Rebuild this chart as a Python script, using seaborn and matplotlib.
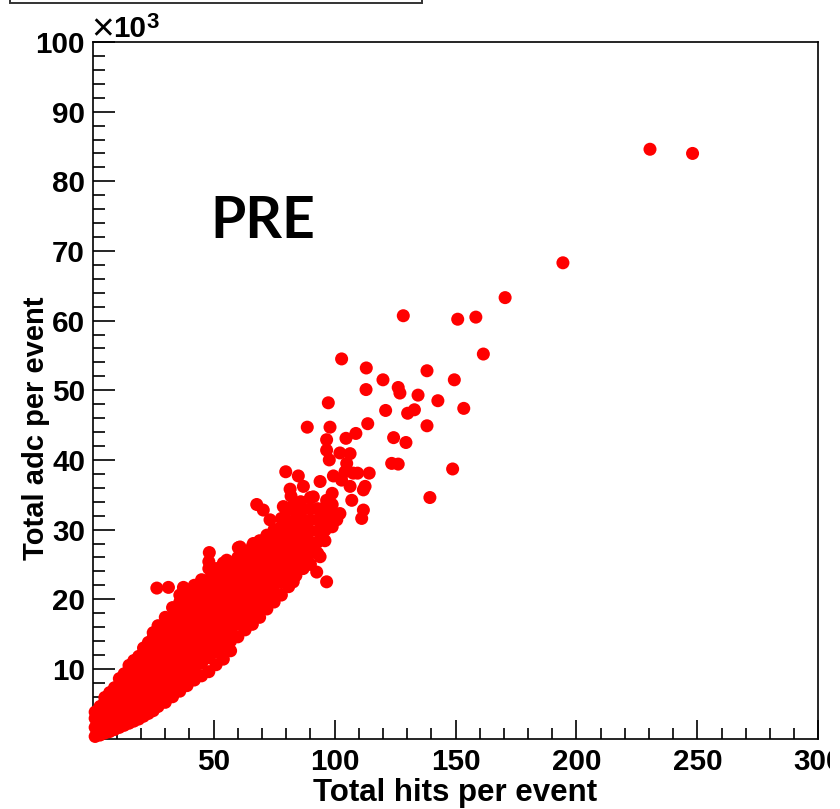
from matplotlib import pyplot as plt
from matplotlib.patches import Rectangle
from matplotlib.ticker import FixedLocator, MultipleLocator
import pandas as pd
import seaborn as sns

# dense part of the cloud: hit count -> adc values (x10^3) read column by column
band_hits = [1, 3, 5, 7, 9, 11, 13, 15, 17, 19, 21, 23, 25, 27,
             30, 33, 36, 39, 42, 45, 48, 51, 54, 57, 60, 63, 66, 69,
             72, 75, 78, 81, 84, 87, 90, 93, 96, 99, 82, 86]
band_adc = [
    [0.3, 1.6, 2.9, 3.8],
    [0.5, 2.0, 3.5, 4.6],
    [0.8, 2.3, 3.8, 5.3, 5.9],
    [1.0, 2.5, 4.0, 5.5, 6.6],
    [1.3, 2.8, 4.3, 5.8, 7.3],
    [1.6, 3.1, 4.6, 6.1, 7.6, 8.6],
    [1.9, 3.4, 4.9, 6.4, 7.9, 9.3],
    [2.2, 3.7, 5.2, 6.7, 8.2, 9.7, 10.5],
    [2.5, 4.0, 5.5, 7.0, 8.5, 10.0, 11.2],
    [2.8, 4.3, 5.8, 7.3, 8.8, 10.3, 11.8],
    [3.2, 4.7, 6.2, 7.7, 9.2, 10.7, 12.2, 13.0],
    [3.6, 5.1, 6.6, 8.1, 9.6, 11.1, 12.6, 13.8],
    [4.0, 5.5, 7.0, 8.5, 10.0, 11.5, 13.0, 14.5, 15.2],
    [4.6, 6.1, 7.6, 9.1, 10.6, 12.1, 13.6, 15.1, 16.2],
    [5.2, 6.8, 8.4, 10.0, 11.6, 13.2, 14.8, 16.4, 17.4],
    [6.0, 7.6, 9.2, 10.8, 12.4, 14.0, 15.6, 17.2, 18.8],
    [6.8, 8.4, 10.0, 11.6, 13.2, 14.8, 16.4, 18.0, 19.6, 20.6],
    [7.6, 9.2, 10.8, 12.4, 14.0, 15.6, 17.2, 18.8, 20.4, 21.2],
    [8.4, 10.0, 11.6, 13.2, 14.8, 16.4, 18.0, 19.6, 21.2, 22.0],
    [9.0, 10.8, 12.4, 14.0, 15.6, 17.2, 18.8, 20.4, 22.0, 22.8],
    [9.6, 11.6, 13.2, 14.8, 16.4, 18.0, 19.6, 21.2, 22.8, 24.4, 25.4],
    [10.6, 12.4, 14.0, 15.6, 17.2, 18.8, 20.4, 22.0, 23.6, 24.4],
    [11.4, 13.2, 14.8, 16.4, 18.0, 19.6, 21.2, 22.8, 24.4, 25.2],
    [12.6, 14.0, 15.6, 17.2, 18.8, 20.4, 22.0, 23.6, 25.2],
    [14.6, 16.4, 18.0, 19.6, 21.2, 22.8, 24.4, 26.0],
    [15.6, 17.2, 18.8, 20.4, 22.0, 23.6, 25.2, 26.8],
    [16.4, 18.0, 19.6, 21.2, 22.8, 24.4, 26.0, 27.6],
    [17.4, 18.8, 20.4, 22.0, 23.6, 25.2, 26.8, 28.4],
    [18.6, 20.0, 21.2, 22.8, 24.4, 26.0, 27.6, 29.2],
    [19.6, 20.8, 22.0, 23.6, 25.2, 26.8, 28.4, 30.0],
    [20.6, 22.4, 24.0, 25.6, 27.2, 28.8, 30.4, 31.6],
    [21.8, 23.2, 24.8, 26.4, 28.0, 29.6, 31.2],
    [23.4, 24.4, 26.0, 27.6, 29.2, 30.8],
    [24.4, 25.6, 27.2, 28.8, 30.4],
    [25.0, 26.6, 28.2, 29.8, 31.4, 33.0, 34.6],
    [26.6, 28.2, 29.8, 31.4, 33.0],
    [28.4, 30.0, 31.6, 33.2],
    [30.4, 32.0, 33.6, 35.2],
    [33.2, 34.8],
    [32.4, 34.0],
]

# single events outside the dense band
sparse_hits = [230.4, 248.0, 194.4, 170.5, 128.4, 150.9, 158.4, 161.5,
               102.9, 113.1, 138.2, 120.0, 126.3, 127.0, 113.0, 134.5,
               149.5, 142.7, 97.4, 121.1, 130.2, 133.0, 153.4, 88.7,
               98.1, 138.2, 113.7, 108.8, 104.7, 96.7, 124.4, 129.5,
               97.8, 106.4, 105.0, 123.6, 126.3, 148.8, 79.8, 85.0,
               114.3, 109.5, 139.4, 81.6, 87.1, 94.0, 99.5, 112.6,
               106.4, 107.1, 111.9, 80.2, 85.7, 91.2, 96.7, 102.2,
               96.7, 102.2, 107.7, 104.3, 111.9, 111.2, 102.9, 100.9,
               96.0, 94.0, 92.6, 96.7, 67.8, 70.5, 78.8, 84.3,
               88.5, 95.3, 73.3, 78.8, 60.9, 66.4, 74.7, 85.7,
               89.8, 82.9, 80.2, 77.4, 55.4, 60.2, 48.2, 26.5,
               31.3, 37.5]
sparse_adc = [84.6, 84.0, 68.3, 63.3, 60.7, 60.2, 60.5, 55.2,
              54.5, 53.2, 52.8, 51.5, 50.4, 49.6, 50.1, 49.3,
              51.5, 48.5, 48.2, 47.1, 46.7, 47.2, 47.4, 44.7,
              44.7, 44.9, 45.2, 43.8, 43.1, 42.9, 43.2, 42.5,
              40.0, 40.9, 39.5, 39.5, 39.4, 38.7, 38.3, 37.7,
              38.1, 38.1, 34.6, 35.8, 36.2, 36.9, 37.7, 36.2,
              36.2, 34.2, 32.8, 32.8, 33.8, 34.7, 34.2, 32.3,
              41.4, 41.0, 38.1, 38.3, 35.7, 31.6, 37.1, 31.4,
              29.9, 26.1, 23.9, 22.5, 33.6, 32.8, 33.3, 31.8,
              30.9, 32.3, 31.4, 30.4, 27.5, 28.0, 28.5, 28.5,
              27.5, 22.5, 24.7, 26.1, 25.6, 27.4, 26.7, 21.6,
              21.7, 21.7]

x_major = [50, 100, 150, 200, 250, 300]
y_major = [10, 20, 30, 40, 50, 60, 70, 80, 90, 100]


def build_frame() -> pd.DataFrame:
    hits, adc = [], []
    for h, col in zip(band_hits, band_adc):
        for a in col:
            hits.append(h)
            adc.append(a)
    hits += sparse_hits
    adc += sparse_adc
    return pd.DataFrame({"hits": hits, "adc": adc})


df = build_frame()

sns.set_style("ticks")
plt.rcParams["font.family"] = ["Liberation Sans", "DejaVu Sans"]
for key in ["text.color", "axes.labelcolor", "xtick.color", "ytick.color",
            "axes.edgecolor"]:
    plt.rcParams[key] = "black"

fig = plt.figure(figsize=(8.4, 8.09), dpi=100)
ax = fig.add_axes([0.1104, 0.0871, 0.8638, 0.8610])

sns.scatterplot(data=df, x="hits", y="adc", ax=ax, color="#ff0000",
                s=88, marker="o", edgecolor="none", linewidth=0,
                legend=False, clip_on=False, zorder=3)

ax.set_xlim(0, 300)
ax.set_ylim(0, 100)
ax.xaxis.set_major_locator(FixedLocator(x_major))
ax.xaxis.set_minor_locator(MultipleLocator(10))
ax.yaxis.set_major_locator(FixedLocator(y_major))
ax.yaxis.set_minor_locator(MultipleLocator(2))

for sp in ax.spines.values():
    sp.set_linewidth(1.2)
    sp.set_color("black")

ax.tick_params(axis="both", which="both", direction="in", top=False,
               right=False, width=1.2, color="black", labelcolor="black")
ax.tick_params(axis="x", which="major", length=13.7, pad=6.5)
ax.tick_params(axis="x", which="minor", length=7.9)
ax.tick_params(axis="y", which="major", length=15.8, pad=5.5)
ax.tick_params(axis="y", which="minor", length=8.6)
for lab in ax.get_xticklabels() + ax.get_yticklabels():
    lab.set_fontsize(21.3)
    lab.set_fontweight("bold")

ax.set_xlabel("Total hits per event", fontsize=22.5, fontweight="bold",
              color="black")
ax.set_ylabel("Total adc per event", fontsize=21, fontweight="bold",
              color="black")
ax.xaxis.set_label_coords(0.5, -0.057)
ax.yaxis.set_label_coords(-0.059, 0.445)

# axis multiplier, ROOT style: thin "x", bold "10", bold raised "3"
fig.text(91 / 840, 1 - 40 / 809, "\u00d7", fontsize=28, ha="left",
         va="baseline", color="black")
fig.text(113 / 840, 1 - 37 / 809, "10", fontsize=21.3, fontweight="bold",
         ha="left", va="baseline", color="black")
fig.text(146 / 840, 1 - 28 / 809, "3", fontsize=16, fontweight="bold",
         ha="left", va="baseline", color="black")

ax.text(0.2347, 0.7186, "PRE", transform=ax.transAxes, ha="center",
        va="baseline", fontsize=41, fontweight="bold", color="black",
        family=["Lato", "Open Sans", "DejaVu Sans"])

# bottom edge of the title box cut by the top of the picture
fig.patches.append(Rectangle((10 / 840, 1 - 2.5 / 809), 412 / 840, 0.1,
                             transform=fig.transFigure, facecolor="white",
                             edgecolor="#333333", linewidth=1.4, zorder=5))
# picture is cropped on the right
fig.patches.append(Rectangle((830 / 840, 0), 0.02, 1,
                             transform=fig.transFigure, facecolor="white",
                             edgecolor="none", zorder=10))

plt.savefig("out.png", dpi=100)
